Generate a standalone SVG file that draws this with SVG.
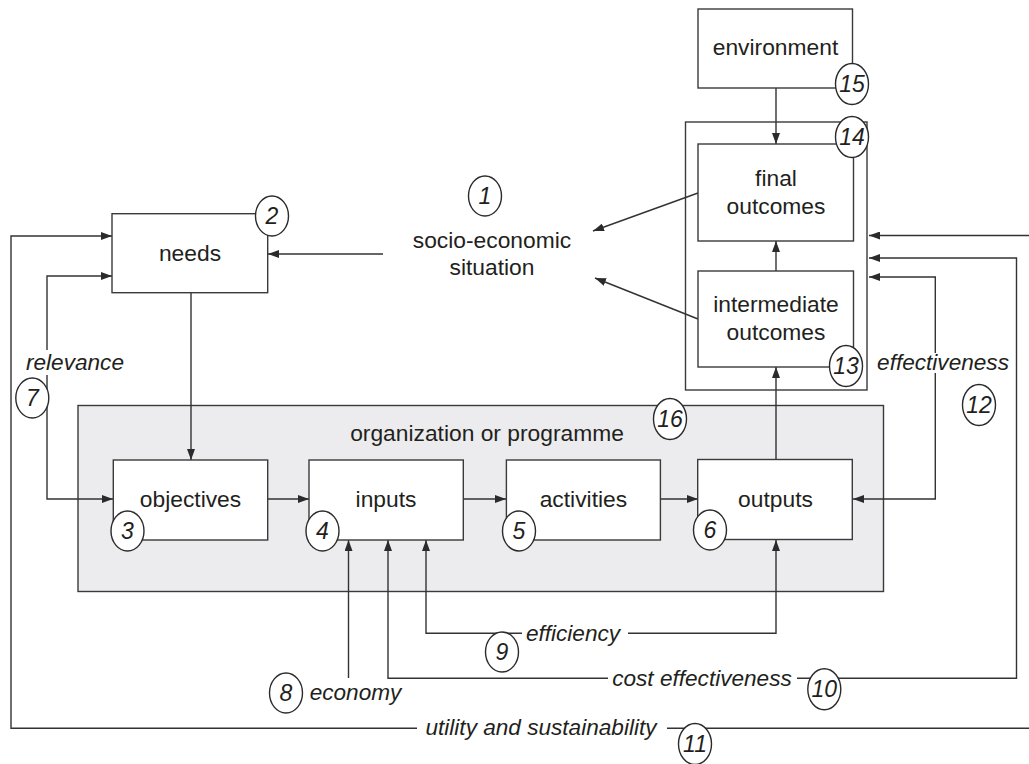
<svg xmlns="http://www.w3.org/2000/svg" width="1029" height="764" viewBox="0 0 1029 764">
<defs>
<marker id="ah" markerUnits="userSpaceOnUse" markerWidth="11" markerHeight="8" refX="11" refY="4" orient="auto">
<path d="M0,0 L11,4 L0,8 z" fill="#2b2b2b"/>
</marker>
<style>
.box{fill:#fff;stroke:#3a3a3a;stroke-width:1.4}
.gbox{fill:#ececee;stroke:#3a3a3a;stroke-width:1.4}
.t{font-family:"Liberation Sans",Arial,sans-serif;font-size:22.8px;fill:#231f20;text-anchor:middle}
.it{font-family:"Liberation Sans",Arial,sans-serif;font-size:22.6px;font-style:italic;fill:#231f20;text-anchor:middle}
.nt{font-family:"Liberation Sans",Arial,sans-serif;font-size:23px;font-style:italic;fill:#231f20;text-anchor:middle}
.num{fill:#fff;stroke:#2b2b2b;stroke-width:1.4}
.ln{fill:none;stroke:#333;stroke-width:1.4}
.arr{fill:none;stroke:#333;stroke-width:1.4;marker-end:url(#ah)}
</style>
</defs>
<rect width="1029" height="764" fill="#fff"/>

<g id="organization">
<rect class="gbox" x="78" y="405.5" width="805.5" height="186"/>
<text class="t" x="487" y="441">organization or programme</text>
</g>

<g id="outer14">
<rect class="box" x="685.5" y="122" width="181.5" height="268"/>
</g>

<g id="connectors">
<path class="arr" d="M776,88 V144"/>
<path class="arr" d="M776,271 V241"/>
<path class="arr" d="M776,460 V367"/>
<path class="arr" d="M698,193 L593,231"/>
<path class="arr" d="M698,319 L595,278"/>
<path class="arr" d="M383,254 H268"/>
<path class="arr" d="M191,293 V460"/>
<path class="arr" d="M268,499 H309"/>
<path class="arr" d="M463,499 H506"/>
<path class="arr" d="M660,499 H698"/>
<path class="arr" d="M47,350 V276 H112"/>
<path class="arr" d="M47,375 V499 H113"/>
<path class="arr" d="M417,728.3 H11 V236 H112"/>
<path class="ln" d="M667,728.3 H1029"/>
<path class="arr" d="M1029,235.5 H869"/>
<path class="arr" d="M797,678.3 H1016.5 V258 H869"/>
<path class="arr" d="M608,678.3 H388 V540"/>
<path class="arr" d="M628,633.3 H776 V540"/>
<path class="arr" d="M522,633.3 H426 V540"/>
<path class="arr" d="M348.5,678 V540"/>
<path class="arr" d="M935.3,353 V277 H869"/>
<path class="arr" d="M935.3,373 V499 H853"/>
<text class="it" x="75" y="370">relevance</text>
<text class="it" x="355.5" y="700">economy</text>
<text class="it" x="573" y="641">efficiency</text>
<text class="it" x="702" y="685.5">cost effectiveness</text>
<text class="it" x="541" y="735">utility and sustainability</text>
<text class="it" x="943" y="370">effectiveness</text>
</g>

<g id="environment">
<rect class="box" x="698" y="9" width="154.5" height="79"/>
<text class="t" x="775.5" y="55">environment</text>
</g>

<g id="final-outcomes">
<rect class="box" x="698" y="144" width="155.5" height="97"/>
<text class="t" x="776" y="186">final</text>
<text class="t" x="776" y="214">outcomes</text>
</g>

<g id="intermediate-outcomes">
<rect class="box" x="698" y="271" width="155.5" height="96"/>
<text class="t" x="776" y="312">intermediate</text>
<text class="t" x="776" y="340">outcomes</text>
</g>

<g id="socio-economic">
<text class="t" x="492" y="248">socio-economic</text>
<text class="t" x="492" y="275">situation</text>
</g>

<g id="needs">
<rect class="box" x="112" y="213.7" width="155.7" height="79"/>
<text class="t" x="190" y="261">needs</text>
</g>

<g id="objectives">
<rect class="box" x="113.3" y="460" width="154.4" height="80"/>
<text class="t" x="190.5" y="507">objectives</text>
</g>

<g id="inputs">
<rect class="box" x="309" y="460" width="154.3" height="80"/>
<text class="t" x="386" y="507">inputs</text>
</g>

<g id="activities">
<rect class="box" x="506.4" y="460" width="154" height="80"/>
<text class="t" x="583.4" y="507">activities</text>
</g>

<g id="outputs">
<rect class="box" x="697.7" y="459.5" width="154.6" height="80"/>
<text class="t" x="775.5" y="507">outputs</text>
</g>

<g id="n1"><ellipse class="num" cx="485" cy="196" rx="16.5" ry="20"/><text class="nt" x="485" y="204">1</text></g>
<g id="n2"><ellipse class="num" cx="272" cy="216" rx="16.5" ry="20"/><text class="nt" x="272" y="224">2</text></g>
<g id="n3"><ellipse class="num" cx="127.5" cy="531" rx="16.5" ry="20"/><text class="nt" x="127.5" y="539">3</text></g>
<g id="n4"><ellipse class="num" cx="322.5" cy="531" rx="16.5" ry="20"/><text class="nt" x="322.5" y="539">4</text></g>
<g id="n5"><ellipse class="num" cx="519" cy="531" rx="16.5" ry="20"/><text class="nt" x="519" y="539">5</text></g>
<g id="n6"><ellipse class="num" cx="710" cy="530" rx="16.5" ry="20"/><text class="nt" x="710" y="538">6</text></g>
<g id="n7"><ellipse class="num" cx="32.3" cy="398" rx="16.5" ry="20"/><text class="nt" x="32.3" y="406">7</text></g>
<g id="n8"><ellipse class="num" cx="286" cy="693" rx="16.5" ry="20"/><text class="nt" x="286" y="701">8</text></g>
<g id="n9"><ellipse class="num" cx="502" cy="652" rx="16.5" ry="20"/><text class="nt" x="502" y="660">9</text></g>
<g id="n10"><ellipse class="num" cx="824.3" cy="689.3" rx="16.5" ry="20.5"/><text class="nt" x="824.3" y="697.3">10</text></g>
<g id="n11"><ellipse class="num" cx="695" cy="744" rx="16.5" ry="20.5"/><text class="nt" x="695" y="752">11</text></g>
<g id="n12"><ellipse class="num" cx="979" cy="405" rx="16.5" ry="20.5"/><text class="nt" x="979" y="413">12</text></g>
<g id="n13"><ellipse class="num" cx="846" cy="366" rx="16.5" ry="20.5"/><text class="nt" x="846" y="374">13</text></g>
<g id="n14"><ellipse class="num" cx="852" cy="137" rx="16.5" ry="20.5"/><text class="nt" x="852" y="145">14</text></g>
<g id="n15"><ellipse class="num" cx="852" cy="84" rx="16.5" ry="20.5"/><text class="nt" x="852" y="92">15</text></g>
<g id="n16"><ellipse class="num" cx="670" cy="419" rx="16.5" ry="20.5"/><text class="nt" x="670" y="427">16</text></g>
</svg>
